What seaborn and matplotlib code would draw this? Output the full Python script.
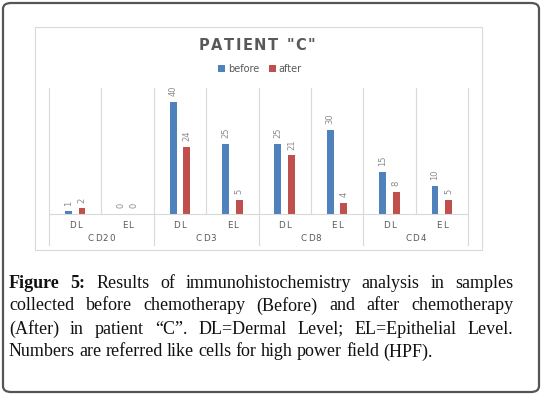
import pandas as pd
import matplotlib
matplotlib.use('Agg')
import matplotlib.pyplot as plt
from matplotlib.patches import Patch, Rectangle, FancyBboxPatch
from matplotlib.lines import Line2D
import seaborn as sns

# data
groups = ['CD20', 'CD3', 'CD8', 'CD4']
levels = ['DL', 'EL']
before = [1, 0, 40, 25, 25, 30, 15, 10]
after = [2, 0, 24, 5, 21, 4, 8, 5]
series = ['before', 'after']
colors = ['#4F81BD', '#C0504D']

caption_lines = [
    [('Figure', True), ('5:', True), ('Results', False), ('of', False), ('immunohistochemistry', False),
     ('analysis', False), ('in', False), ('samples', False)],
    [(w, False) for w in 'collected before chemotherapy (Before) and after chemotherapy'.split()],
    [(w, False) for w in '(After) in patient \u201cC\u201d. DL=Dermal Level; EL=Epithelial Level.'.split()],
    [(w, False) for w in 'Numbers are referred like cells for high power field (HPF).'.split()],
]

cats = [g + ' ' + l for g in groups for l in levels]
df = pd.DataFrame({
    'cat': cats * 2,
    'series': [series[0]] * len(cats) + [series[1]] * len(cats),
    'value': before + after,
})

W, H = 544, 396
fig = plt.figure(figsize=(W / 100, H / 100), dpi=100)
renderer = fig.canvas.get_renderer()


def spaced_text(xc, yc, s, track, **kw):
    # draws a string centred at pixel (xc, yc) with extra letter spacing
    parts = []
    for ch in s:
        t = fig.text(0, 1 - yc / H, ch, va='center', **kw)
        parts.append((t, t.get_window_extent(renderer).width))
    total = sum(w for _, w in parts) + track * (len(parts) - 1)
    x = xc - total / 2
    for t, w in parts:
        t.set_x(x / W)
        x += w + track


# outer rounded frame of the figure box
fig.patches.append(FancyBboxPatch((3 / W, 4 / H), 536 / W, 389 / H,
                                  boxstyle='round,pad=0,rounding_size=0.015',
                                  transform=fig.transFigure, fill=False,
                                  edgecolor='#555555', linewidth=1.6))
# chart area frame
fig.patches.append(Rectangle((35 / W, 1 - 250 / H), 447 / W, 223 / H,
                             transform=fig.transFigure, fill=False,
                             edgecolor='#D9D9D9', linewidth=0.8))

ax = fig.add_axes([49 / W, 1 - 214 / H, 419 / W, 126 / H])
sns.barplot(data=df, x='cat', y='value', hue='series', order=cats, hue_order=series,
            palette=colors, width=0.52, gap=0.5, ax=ax, legend=False, saturation=1)

ax.set_xlim(-0.5, len(cats) - 0.5)
ax.set_ylim(0, 45)
ax.set_xlabel('')
ax.set_ylabel('')
ax.set_xticks([])
ax.set_yticks([])
for s in ['top', 'left', 'right']:
    ax.spines[s].set_visible(False)
ax.spines['bottom'].set_color('#D9D9D9')
ax.spines['bottom'].set_linewidth(0.8)

for cont in ax.containers:
    ax.bar_label(cont, rotation=90, padding=4, fontsize=6, color='#8C8C8C')

# category gridlines and multi-level axis
xt = ax.get_xaxis_transform()
for i in range(len(cats) + 1):
    x = i - 0.5
    low = -0.246 if i % 2 == 0 else 0
    ax.add_line(Line2D([x, x], [low, 1], transform=xt, color='#D9D9D9', lw=0.8, clip_on=False))

px_per_cat = 419 / len(cats)
for i, c in enumerate(cats):
    spaced_text(49 + (i + 0.5) * px_per_cat, 225, c.split()[1], 1.0,
                fontsize=6.3, color='#595959')
for j, g in enumerate(groups):
    spaced_text(49 + (2 * j + 1) * px_per_cat, 239, g, 1.0,
                fontsize=6.3, color='#595959')

spaced_text(257, 45, 'PATIENT "C"', 1.6, fontsize=10.5, fontweight='bold', color='#595959')
handles = [Patch(facecolor=c, label=s) for c, s in zip(colors, series)]
fig.legend(handles=handles, loc='center', bbox_to_anchor=(260 / W, 1 - 69 / H), ncol=2,
           frameon=False, fontsize=7, handlelength=0.7, handleheight=0.7,
           handletextpad=0.3, columnspacing=1.0, labelcolor='#595959')

# justified caption
left, right = 9, 513
ys = [283, 306, 329, 352]
for n, (line, y) in enumerate(zip(caption_lines, ys)):
    items = []
    for word, bold in line:
        t = fig.text(0, 1 - y / H, word, fontsize=13, family='Liberation Serif',
                     fontweight='bold' if bold else 'normal', va='center', color='#111111')
        items.append((t, t.get_window_extent(renderer).width))
    total = sum(w for _, w in items)
    if n < len(caption_lines) - 1:
        gap = (right - left - total) / (len(items) - 1)
    else:
        gap = 4.2
    x = left
    for t, w in items:
        t.set_x(x / W)
        x += w + gap

fig.savefig('out.png', dpi=100)
